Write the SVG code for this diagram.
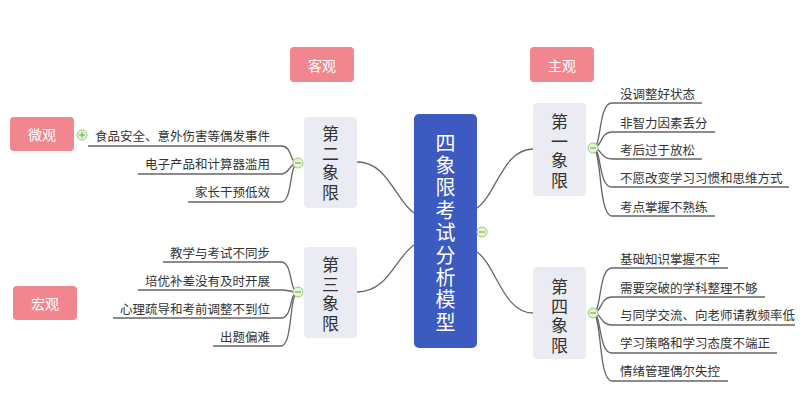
<svg xmlns="http://www.w3.org/2000/svg" width="800" height="416" viewBox="0 0 800 416">
<style>
.tag{fill:#F1868E}
.tagt{fill:#ffffff;font-family:"Noto Sans CJK SC","Noto Sans",sans-serif;font-size:14px;text-anchor:middle;dominant-baseline:central}
.q{fill:#EBEBF3}
.qt{fill:#333333;font-family:"Noto Sans CJK SC","Noto Sans",sans-serif;font-size:17px;text-anchor:middle;writing-mode:vertical-rl;letter-spacing:2.5px}
.ct{fill:#ffffff;font-family:"Noto Sans CJK SC","Noto Sans",sans-serif;font-size:20px;text-anchor:middle;writing-mode:vertical-rl;letter-spacing:2.4px}
.lt{fill:#333333;font-family:"Noto Sans CJK SC","Noto Sans",sans-serif;font-size:12.5px;dominant-baseline:central}
.ltr{fill:#333333;font-family:"Noto Sans CJK SC","Noto Sans",sans-serif;font-size:12.5px;dominant-baseline:central;text-anchor:end}
.ln{fill:none;stroke:#666666;stroke-width:1.3}
.tg{fill:#E6F4D6;stroke:#95C97A;stroke-width:1}
.tgs{stroke:#6FA84F;stroke-width:1.1}
</style>
<rect width="800" height="416" fill="#ffffff"/>
<g id="connectors">
<path class="ln" d="M414,213 C395,200 388,162 357,162"/>
<path class="ln" d="M414,245 C395,258 388,292 357,292"/>
<path class="ln" d="M477,208 C496,195 503,149 533,149"/>
<path class="ln" d="M477,252 C496,265 503,313 533,313"/>
<path class="ln" d="M593,148 C602,148 598,103 612,103 H702"/>
<path class="ln" d="M593,148 C602,148 600,132 612,132 H715"/>
<path class="ln" d="M593,148 C602,148 600,159 612,159 H702"/>
<path class="ln" d="M593,148 C602,148 598,187 612,187 H789"/>
<path class="ln" d="M593,148 C602,148 598,216 612,216 H715"/>
<path class="ln" d="M593,313 C602,313 598,268 612,268 H728"/>
<path class="ln" d="M593,313 C602,313 600,297 612,297 H765"/>
<path class="ln" d="M593,313 C602,313 600,325 612,325 H795"/>
<path class="ln" d="M593,313 C602,313 598,353 612,353 H777"/>
<path class="ln" d="M593,313 C602,313 598,381 612,381 H728"/>
<path class="ln" d="M298,163 C289,163 293,146 281,146 H88"/>
<path class="ln" d="M298,163 C289,163 290,174 281,174 H138"/>
<path class="ln" d="M298,163 C289,163 293,202 281,202 H188"/>
<path class="ln" d="M298,292 C289,292 293,262 281,262 H163"/>
<path class="ln" d="M298,292 C289,292 290,290 281,290 H138"/>
<path class="ln" d="M298,292 C289,292 293,318 281,318 H113"/>
<path class="ln" d="M298,292 C289,292 293,346 281,346 H213"/>
</g>
<g id="center">
<rect x="414" y="114" width="63" height="234" rx="5" fill="#3D5AC0"/>
<text class="ct" x="445.5" y="233.8">四象限考试分析模型</text>
</g>
<g id="tag-keguan"><rect class="tag" x="290" y="47" width="64" height="35" rx="4"/><text class="tagt" x="322" y="64.5">客观</text></g>
<g id="tag-zhuguan"><rect class="tag" x="530" y="47" width="64" height="35" rx="4"/><text class="tagt" x="562" y="64.5">主观</text></g>
<g id="tag-weiguan"><rect class="tag" x="10" y="117" width="64" height="34" rx="4"/><text class="tagt" x="42" y="134">微观</text></g>
<g id="tag-hongguan"><rect class="tag" x="13" y="286" width="64" height="34" rx="4"/><text class="tagt" x="45" y="303">宏观</text></g>
<g id="q1">
<rect class="q" x="533" y="103" width="53" height="93" rx="4"/>
<text class="qt" x="559.5" y="152.5">第一象限</text>
</g>
<g id="q4">
<rect class="q" x="533" y="267" width="53" height="92" rx="4"/>
<text class="qt" x="559.5" y="317.5">第四象限</text>
</g>
<g id="q2">
<rect class="q" x="304" y="117" width="53" height="91" rx="4"/>
<text class="qt" x="330.5" y="164.5">第二象限</text>
</g>
<g id="q3">
<rect class="q" x="304" y="247" width="53" height="91" rx="4"/>
<text class="qt" x="330.5" y="295.5">第三象限</text>
</g>
<g id="q1-items">
<text class="lt" x="620" y="93">没调整好状态</text>
<text class="lt" x="620" y="122">非智力因素丢分</text>
<text class="lt" x="620" y="149">考后过于放松</text>
<text class="lt" x="620" y="177">不愿改变学习习惯和思维方式</text>
<text class="lt" x="620" y="206">考点掌握不熟练</text>
</g>
<g id="q4-items">
<text class="lt" x="620" y="258">基础知识掌握不牢</text>
<text class="lt" x="620" y="287">需要突破的学科整理不够</text>
<text class="lt" x="620" y="314">与同学交流、向老师请教频率低</text>
<text class="lt" x="620" y="342">学习策略和学习态度不端正</text>
<text class="lt" x="620" y="370">情绪管理偶尔失控</text>
</g>
<g id="q2-items">
<text class="ltr" x="270" y="135">食品安全、意外伤害等偶发事件</text>
<text class="ltr" x="270" y="163">电子产品和计算器滥用</text>
<text class="ltr" x="270" y="191">家长干预低效</text>
</g>
<g id="q3-items">
<text class="ltr" x="270" y="252">教学与考试不同步</text>
<text class="ltr" x="270" y="280">培优补差没有及时开展</text>
<text class="ltr" x="270" y="308">心理疏导和考前调整不到位</text>
<text class="ltr" x="270" y="336">出题偏难</text>
</g>
<g id="toggles">
<circle class="tg" cx="482" cy="232" r="5"/><path class="tgs" d="M479,232 H485"/>
<circle class="tg" cx="593" cy="148" r="5"/><path class="tgs" d="M590,148 H596"/>
<circle class="tg" cx="593" cy="313" r="5"/><path class="tgs" d="M590,313 H596"/>
<circle class="tg" cx="298" cy="163" r="5"/><path class="tgs" d="M295,163 H301"/>
<circle class="tg" cx="298" cy="292" r="5"/><path class="tgs" d="M295,292 H301"/>
<circle class="tg" cx="82" cy="135" r="5"/><path class="tgs" d="M79,135 H85 M82,132 V138"/>
</g>
</svg>
